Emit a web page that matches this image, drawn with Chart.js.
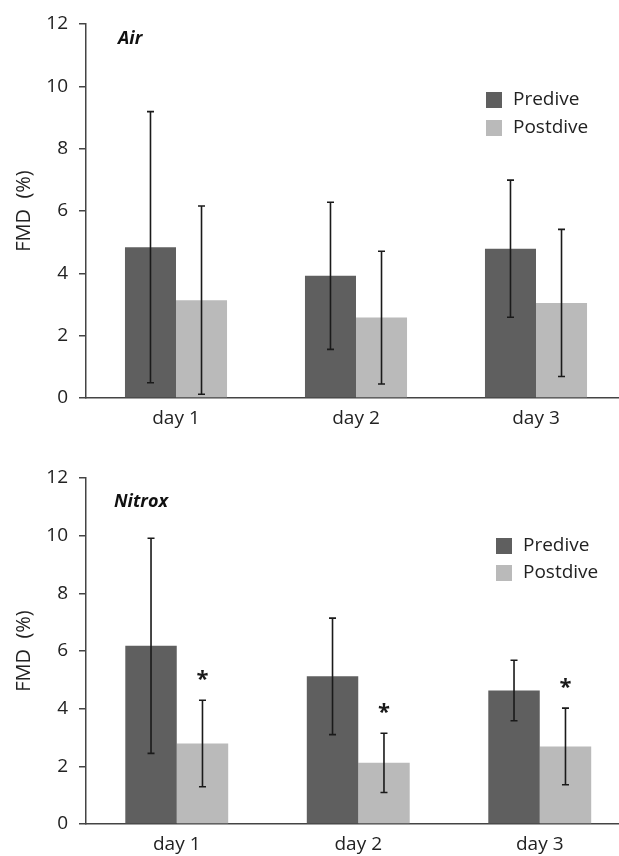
<!DOCTYPE html>
<html>
<head>
<meta charset="utf-8">
<script src="https://cdn.jsdelivr.net/npm/chart.js@4"></script>
<style>
  html, body { margin: 0; padding: 0; background: #fff; overflow: hidden; }
  #page { position: relative; width: 619px; height: 856px; overflow: hidden; }
  .panel { position: absolute; left: 0; }
</style>
</head>
<body>
<div id="page">
  <div class="panel" style="top:0"><canvas id="airChart" width="640" height="430"></canvas></div>
  <div class="panel" style="top:440px"><canvas id="nitroxChart" width="645" height="416"></canvas></div>
</div>
<script>
const days = ["day 1", "day 2", "day 3"];
const seriesNames = ["Predive", "Postdive"];

// Air dives: means and SD
const airPredive = [4.84, 3.92, 4.79];
const airPrediveSd = [4.35, 2.36, 2.2];
const airPostdive = [3.14, 2.58, 3.05];
const airPostdiveSd = [3.02, 2.13, 2.36];

// Nitrox dives
const nitroxPredive = [6.18, 5.12, 4.63];
const nitroxPrediveSd = [3.73, 2.02, 1.05];
const nitroxPostdive = [2.79, 2.12, 2.69];
const nitroxPostdiveSd = [1.5, 1.03, 1.33];
const nitroxPostdiveMarks = ["*", "*", "*"];

const yMin = 0, yMax = 12, yStep = 2;

const FONT = "'Open Sans', 'Noto Sans', sans-serif";
const PRE_COLOR = "#5f5f5f";
const POST_COLOR = "#bababa";

// error bars, panel label, asterisks and legend
const extras = {
    id: "extras",
    afterDatasetsDraw(chart, args, opts) {
        const ctx = chart.ctx;
        const y = chart.scales.y;
        ctx.save();
        chart.data.datasets.forEach((ds, i) => {
            const meta = chart.getDatasetMeta(i);
            meta.data.forEach((bar, j) => {
                const hi = y.getPixelForValue(ds.data[j] + ds.sd[j]);
                const lo = y.getPixelForValue(ds.data[j] - ds.sd[j]);
                ctx.strokeStyle = "#1a1a1a";
                ctx.lineWidth = 1.6;
                ctx.beginPath();
                ctx.moveTo(bar.x, hi);
                ctx.lineTo(bar.x, lo);
                ctx.moveTo(bar.x - 3.5, hi);
                ctx.lineTo(bar.x + 3.5, hi);
                ctx.moveTo(bar.x - 3.5, lo);
                ctx.lineTo(bar.x + 3.5, lo);
                ctx.stroke();
                if (ds.marks && ds.marks[j]) {
                    ctx.fillStyle = "#1a1a1a";
                    ctx.font = "bold 22px " + FONT;
                    ctx.textAlign = "center";
                    ctx.textBaseline = "alphabetic";
                    ctx.fillText(ds.marks[j], bar.x, hi - 26 + 12);
                }
            });
        });

        // panel label
        ctx.fillStyle = "#111";
        ctx.font = "italic bold 18px " + FONT;
        ctx.textAlign = "left";
        ctx.textBaseline = "middle";
        ctx.fillText(opts.label, opts.labelX, opts.labelY);

        // legend
        ctx.font = "19px " + FONT;
        chart.data.datasets.forEach((ds, i) => {
            const cy = opts.legendY + i * opts.legendGap;
            ctx.fillStyle = ds.backgroundColor;
            ctx.fillRect(opts.legendX, cy - 8, 16, 16);
            ctx.fillStyle = "#222";
            ctx.fillText(ds.label, opts.legendX + 27, cy);
        });
        ctx.restore();
    }
};

function makeChart(id, label, pre, preSd, post, postSd, postMarks, pad, ext) {
    const ctx = document.getElementById(id).getContext("2d");
    return new Chart(ctx, {
        type: "bar",
        data: {
            labels: days,
            datasets: [
                { label: seriesNames[0], data: pre, sd: preSd, backgroundColor: PRE_COLOR },
                { label: seriesNames[1], data: post, sd: postSd, marks: postMarks, backgroundColor: POST_COLOR }
            ]
        },
        options: {
            responsive: false,
            animation: false,
            layout: { padding: pad },
            datasets: { bar: { categoryPercentage: 0.567, barPercentage: 1.0 } },
            plugins: {
                legend: { display: false },
                tooltip: { enabled: false },
                extras: Object.assign({ label: label }, ext)
            },
            scales: {
                x: {
                    grid: { display: false, drawTicks: false },
                    border: { display: true, color: "#444", width: 1.5 },
                    ticks: { color: "#222", font: { family: FONT, size: 19 }, padding: 9 },
                    afterFit: s => { s.height = 32; }
                },
                y: {
                    min: yMin,
                    max: yMax,
                    grid: { drawOnChartArea: false, drawTicks: true, tickLength: 7, color: "#444", lineWidth: 1.5 },
                    border: { display: true, color: "#444", width: 1.5 },
                    ticks: { stepSize: yStep, color: "#222", font: { family: FONT, size: 19 }, padding: 11 },
                    title: { display: true, text: "FMD  (%)", color: "#222", font: { family: FONT, size: 20 }, padding: { top: 12, bottom: 0 } },
                    afterFit: s => { s.width = 86; }
                }
            }
        },
        plugins: [extras]
    });
}

makeChart("airChart", "Air", airPredive, airPrediveSd, airPostdive, airPostdiveSd, null,
    { top: 24, right: 14, bottom: 0, left: 0 },
    { labelX: 118, labelY: 39, legendX: 486, legendY: 100, legendGap: 28 });

makeChart("nitroxChart", "Nitrox", nitroxPredive, nitroxPrediveSd, nitroxPostdive, nitroxPostdiveSd, nitroxPostdiveMarks,
    { top: 38, right: 14.5, bottom: 0, left: 0 },
    { labelX: 114, labelY: 62, legendX: 496, legendY: 106, legendGap: 27 });
</script>
</body>
</html>
